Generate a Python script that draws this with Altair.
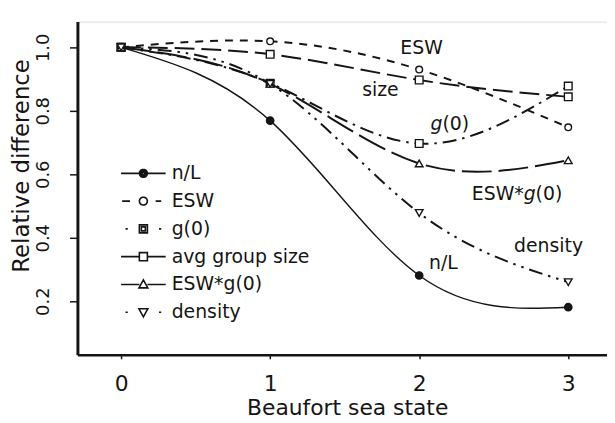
import math
import altair as alt
import pandas as pd

# ---------------- data ----------------
beaufort = [0, 1, 2, 3]
series_names = ["n/L", "ESW", "g(0)", "avg group size", "ESW*g(0)", "density"]
n_L = [1.0, 0.769, 0.281, 0.181]
esw = [1.0, 1.019, 0.930, 0.748]
g0 = [1.0, 0.887, 0.697, 0.878]
group_size = [1.0, 0.978, 0.897, 0.844]
esw_g0 = [1.0, 0.885, 0.634, 0.644]
density = [1.0, 0.885, 0.478, 0.260]
x_ticks = [0, 1, 2, 3]
y_ticks = [0.2, 0.4, 0.6, 0.8, 1.0]

# in-plot annotations (pieces so that the "g" can be italic)
ann_text = ["ESW", "size", "g", "(0)", "ESW*", "g", "(0)", "density", "n/L"]
ann_x = [2.016, 1.74, 2.156, 2.156, 2.701, 2.701, 2.701, 2.868, 2.162]
ann_y = [0.978, 0.847, 0.741, 0.741, 0.519, 0.519, 0.519, 0.354, 0.300]

# ---------------- styles ----------------
INK = "#151515"
FONT = "DejaVu Sans"
ann_style = [
    ("center", False, 0), ("center", False, 0),
    ("right", True, 0), ("left", False, 0),
    ("right", False, 0), ("left", True, 0), ("left", False, 12),
    ("center", False, 0), ("center", False, 0),
]
line_style = {
    "n/L": dict(dash=None, width=1.4, shape="circle", filled=True, size=55),
    "ESW": dict(dash=[8, 7], width=2.0, shape="circle", filled=False, size=45),
    "g(0)": dict(dash=[14, 6, 2.5, 6], width=2.0, shape="square", filled=False, size=60),
    "avg group size": dict(dash=[20, 7], width=2.0, shape="square", filled=False, size=60),
    "ESW*g(0)": dict(dash=[30, 7], width=2.0, shape="triangle-up", filled=False, size=60),
    "density": dict(dash=[14, 6, 2.5, 6, 2.5, 6], width=2.0, shape="triangle-down", filled=False, size=60),
}

values = [n_L, esw, g0, group_size, esw_g0, density]
df = pd.DataFrame(
    [{"series": s, "x": bx, "y": v} for s, vals in zip(series_names, values) for bx, v in zip(beaufort, vals)]
)
ann_df = pd.DataFrame({"text": ann_text, "x": ann_x, "y": ann_y})

x_scale = alt.Scale(domain=[-0.293, 3.26], nice=False, zero=False)
y_scale = alt.Scale(domain=[0.031, 1.081], nice=False, zero=False)

x_axis = alt.Axis(
    values=x_ticks, format="d", grid=False, domainWidth=2.5, domainColor=INK,
    tickSize=4, tickWidth=1.5, tickColor=INK, labelFontSize=22, labelPadding=14.7,
    labelColor=INK, labelFont=FONT, title="Beaufort sea state", titleFont=FONT,
    titleFontSize=22, titleFontWeight="normal", titleColor=INK, titleX=272, titleY=60,
    titleAlign="center", titleBaseline="alphabetic",
)
y_axis = alt.Axis(
    values=y_ticks, format=".1f", grid=False, domainWidth=3, domainColor=INK,
    tickSize=8, tickWidth=1.5, tickColor=INK, labelFontSize=18, labelPadding=17,
    labelAngle=-90, labelAlign="center", labelBaseline="bottom", labelColor=INK,
    labelFont=FONT, title="Relative difference", titleFont=FONT, titleFontSize=23,
    titleFontWeight="normal", titleColor=INK, titleAngle=270, titleX=-56, titleY=145,
    titleAlign="center", titleBaseline="middle",
)


# ---------------- legend symbols (line sample + marker as one path) ----------------
def seg(a, b):
    return f"M{a:.3f},0H{b:.3f}"


def poly(r, n=14):
    pts = [(r * math.cos(2 * math.pi * k / n), r * math.sin(2 * math.pi * k / n)) for k in range(n)]
    return "M" + "L".join(f"{px:.3f},{py:.3f}" for px, py in pts) + "Z"


R = 0.18
legend_paths = [
    seg(-1, -R) + seg(R, 1) + poly(R) + poly(R * 0.65) + poly(R * 0.3),
    seg(-0.95, -0.6) + seg(0.55, 0.8) + poly(R),
    seg(-0.8, -0.7) + seg(0.7, 0.8) + f"M{-R},{-R}H{R}V{R}H{-R}Z" + f"M{-R/2},{-R/2}H{R/2}V{R/2}H{-R/2}Z",
    seg(-1, -R) + seg(R, 1) + f"M{-R},{-R}H{R}V{R}H{-R}Z",
    seg(-1, -R) + seg(R, 1) + f"M0,{-R*1.15}L{R*1.1},{R*0.85}L{-R*1.1},{R*0.85}Z",
    seg(-0.8, -0.7) + seg(0.7, 0.8) + f"M0,{R*1.15}L{R*1.1},{-R*0.85}L{-R*1.1},{-R*0.85}Z",
]

layers = []
for name in series_names:
    st = line_style[name]
    kw = dict(interpolate="natural", strokeWidth=st["width"], color=INK)
    if st["dash"] is not None:
        kw["strokeDash"] = st["dash"]
    base = alt.Chart(df).transform_filter(alt.datum.series == name)
    line = base.mark_line(**kw).encode(
        x=alt.X("x:Q", scale=x_scale, axis=x_axis),
        y=alt.Y("y:Q", scale=y_scale, axis=y_axis),
    )
    pts = base.mark_point(
        shape=st["shape"], filled=True, fill=INK if st["filled"] else "white",
        stroke=INK, strokeWidth=1.4, size=st["size"], opacity=1,
    ).encode(x="x:Q", y="y:Q")
    layers += [line, pts]

legend_layer = (
    alt.Chart(df)
    .transform_filter("datum.x < -100")
    .mark_point(filled=False)
    .encode(
        x="x:Q",
        y="y:Q",
        shape=alt.Shape(
            "series:N",
            scale=alt.Scale(domain=series_names, range=legend_paths),
            legend=alt.Legend(
                title=None, orient="none", legendX=43, legendY=143, padding=0,
                symbolSize=2025, symbolStrokeWidth=1.6, symbolStrokeColor=INK,
                symbolFillColor="white", symbolOpacity=1, clipHeight=20, rowPadding=8,
                labelFont=FONT, labelFontSize=19, labelColor=INK, labelOffset=5,
                labelLimit=300,
            ),
        ),
    )
)
layers.append(legend_layer)

for t, ax_, ay_, (al, it, dx) in zip(ann_text, ann_x, ann_y, ann_style):
    kw = dict(align=al, baseline="alphabetic", font=FONT, fontSize=19, color=INK)
    if it:
        kw["fontStyle"] = "italic"
    if dx:
        kw["dx"] = dx
    txt = (
        alt.Chart(ann_df)
        .transform_filter((alt.datum.text == t) & (alt.datum.x == ax_))
        .mark_text(**kw)
        .encode(x="x:Q", y="y:Q", text="text:N")
    )
    layers.append(txt)

chart = (
    alt.layer(*layers)
    .properties(
        width=534, height=336,
        autosize=alt.AutoSizeParams(type="none"),
        padding={"left": 70, "top": 12, "right": 0, "bottom": 67},
        background="white",
    )
    .configure_view(stroke=None)
    .configure(font=FONT)
)

chart.save("out.html", embed_options={"renderer": "svg", "actions": False})
